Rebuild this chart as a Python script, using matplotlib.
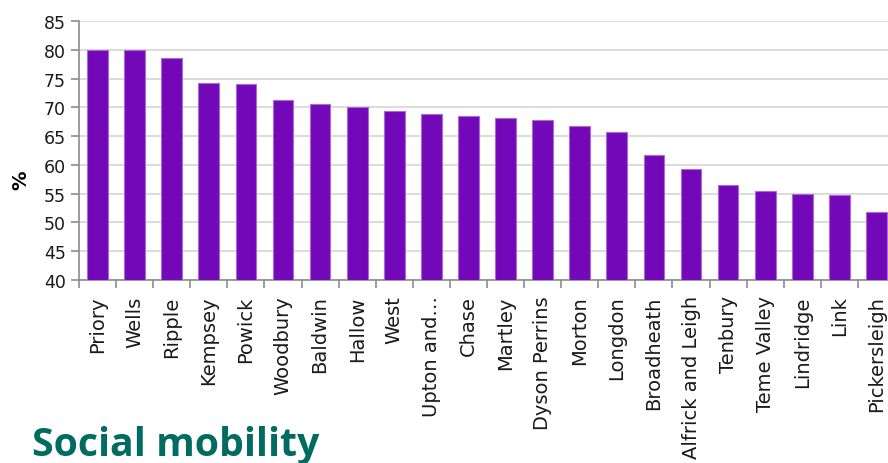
import matplotlib
matplotlib.use("Agg")
import matplotlib.pyplot as plt
import numpy as np

plt.rcParams["font.family"] = ["DejaVu Sans"]

categories = ["Priory", "Wells", "Ripple", "Kempsey", "Powick", "Woodbury", "Baldwin",
              "Hallow", "West", "Upton and…", "Chase", "Martley", "Dyson Perrins",
              "Morton", "Longdon", "Broadheath", "Alfrick and Leigh", "Tenbury",
              "Teme Valley", "Lindridge", "Link", "Pickersleigh"]
values = [80.0, 80.0, 78.5, 74.2, 74.1, 71.3, 70.5, 70.0, 69.3, 68.8, 68.5, 68.2,
          67.8, 66.7, 65.75, 61.75, 59.3, 56.5, 55.5, 55.0, 54.7, 51.8]
yticks = [40, 45, 50, 55, 60, 65, 70, 75, 80, 85]

fig = plt.figure(figsize=(8.88, 4.64), dpi=100)
ax = fig.add_axes([79/888, 1 - 281/464, 816/888, 259/464])

x = np.arange(len(categories))
ax.bar(x, values, width=0.56, color="#7308B8", edgecolor="#A66BD6", linewidth=0.8, zorder=3)
ax.set_ylim(40, 85)
ax.set_xlim(-0.5, len(categories) - 0.5)
ax.set_yticks(yticks)
ax.set_yticklabels([str(t) for t in yticks], fontsize=12.5, color="#1a1a1a")
ax.yaxis.grid(True, color="#d9d9d9", linewidth=1.3, zorder=0)
ax.set_axisbelow(True)

ax.set_xticks(x)
ax.set_xticklabels(categories, rotation=90, fontsize=14, color="#1a1a1a", va="top", ha="center")
ax.set_xticks(np.arange(len(categories) + 1) - 0.5, minor=True)
ax.tick_params(axis="x", which="major", length=0, pad=11)
ax.tick_params(axis="x", which="minor", length=5.5, width=1.2, color="#8c8c8c")
ax.tick_params(axis="y", which="major", length=5.5, width=1.2, color="#8c8c8c", pad=4)

for s in ["top", "right"]:
    ax.spines[s].set_visible(False)
for s in ["left", "bottom"]:
    ax.spines[s].set_color("#8c8c8c")
    ax.spines[s].set_linewidth(1.2)

ax.set_ylabel("%", fontsize=14, fontweight="bold")
ax.yaxis.set_label_coords(-0.060, 0.39)

fig.text(32/888, 1 - 456/464, "Social mobility", fontsize=28.3, fontweight="bold",
         color="#006B60", family="Open Sans", ha="left", va="baseline")

fig.savefig("out.png", dpi=100)
